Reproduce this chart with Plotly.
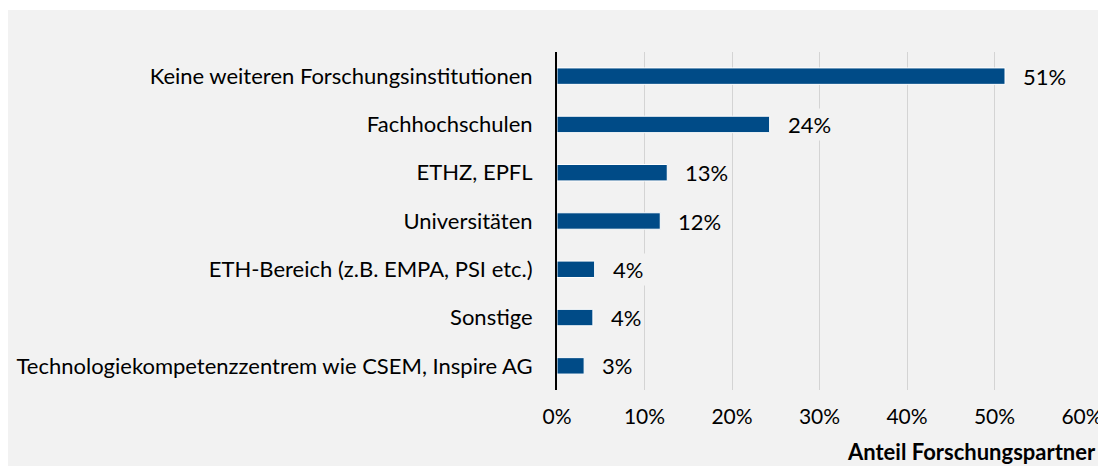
import plotly.graph_objects as go

categories = [
    "Keine weiteren Forschungsinstitutionen",
    "Fachhochschulen",
    "ETHZ, EPFL",
    "Universitäten",
    "ETH-Bereich (z.B. EMPA, PSI etc.)",
    "Sonstige",
    "Technologiekompetenzzentrem wie CSEM, Inspire AG",
]
values = [0.512, 0.243, 0.126, 0.118, 0.043, 0.041, 0.031]
labels = ["51%", "24%", "13%", "12%", "4%", "4%", "3%"]
x_ticks = [0, 0.1, 0.2, 0.3, 0.4, 0.5, 0.6]
x_tick_text = ["0%", "10%", "20%", "30%", "40%", "50%", "60%"]
axis_title = "Anteil Forschungspartner"

FONT = "Lato"
FS = 22
BG = "#f2f2f2"
BAR = "#004b87"

# page has an 8px body margin; figure is sized to fit the window
W, H = 1098, 458
L, R, T, B = 549, 24, 44, 76
plot_h = H - T - B
plot_w = W - L - R

fig = go.Figure()
fig.add_trace(go.Bar(
    x=values, y=categories, orientation="h",
    marker=dict(color=BAR, line=dict(color="white", width=1)),
    width=0.34, hoverinfo="skip",
))

for v, c, t in zip(values, categories, labels):
    fig.add_annotation(
        x=v, y=c, text=t, showarrow=False, xanchor="left", xshift=15,
        bgcolor=BG, borderpad=2,
        font=dict(family=FONT, size=FS, color="#000000"),
    )

fig.add_annotation(
    xref="paper", yref="paper", x=1, xshift=16, xanchor="right",
    y=-(443 - (H - B)) / plot_h, yanchor="middle",
    text="<b>" + axis_title + "</b>", showarrow=False,
    font=dict(family=FONT, size=FS, color="#000000"),
)

# thin white strip along the top edge
fig.add_shape(type="rect", xref="paper", yref="paper",
              x0=-L / plot_w - 0.1, x1=(W - L) / plot_w + 0.1,
              y0=1 + (T - 2) / plot_h, y1=1 + T / plot_h + 0.1,
              fillcolor="white", line=dict(width=0), layer="below")

fig.update_layout(
    width=W, height=H, autosize=False,
    margin=dict(l=L, r=R, t=T, b=B, pad=0, autoexpand=False),
    paper_bgcolor=BG, plot_bgcolor=BG,
    showlegend=False,
    font=dict(family=FONT, size=FS, color="#000000"),
    xaxis=dict(
        range=[0, 0.6], tickvals=x_ticks, ticktext=x_tick_text,
        showgrid=True, gridcolor="#d4d4d4", gridwidth=1,
        zeroline=False, showline=False, ticks="", automargin=False,
        ticklabelstandoff=12, fixedrange=True,
        tickfont=dict(family=FONT, size=21, color="#000000"),
    ),
    yaxis=dict(
        categoryorder="array", categoryarray=categories[::-1],
        autorange=False, range=[-0.5, 6.5], automargin=False,
        showline=True, linecolor="#000000", linewidth=2,
        showgrid=False, ticks="", ticklabelstandoff=18, fixedrange=True,
        tickfont=dict(family=FONT, size=FS, color="#000000"),
    ),
)

fig.write_html("out.html")
